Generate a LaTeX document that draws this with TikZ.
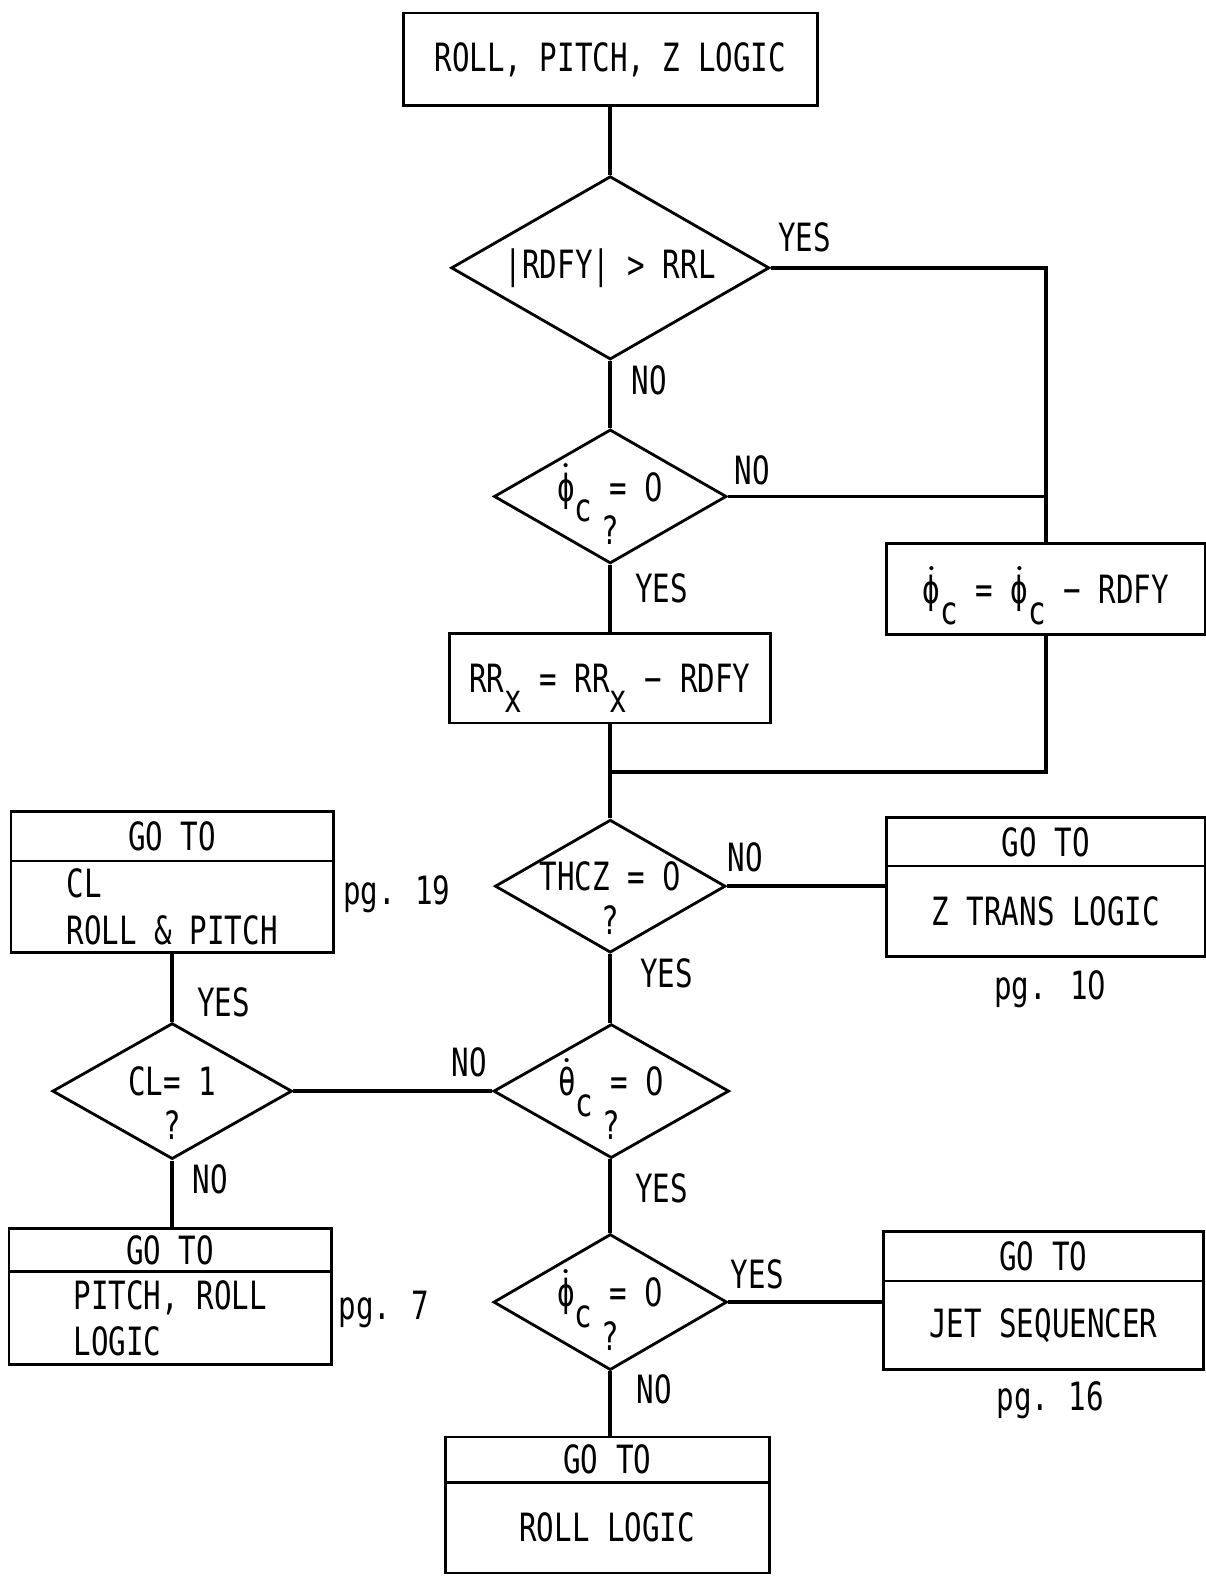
\documentclass[tikz,border=0pt]{standalone}
\usepackage{fontspec}
\setmainfont{DejaVu Sans Mono}[FakeStretch=0.75]
\newfontfamily\zerofont{DejaVu Sans}[FakeStretch=0.75]
\usepackage{tikz}
\usetikzlibrary{shapes.geometric, positioning}
\tikzset{
  flowbox/.style={
    draw, line width=0.8pt, align=center, inner sep=0pt,
    font=\fontsize{11}{13}\selectfont
  },
  decision/.style={
    draw, diamond, line width=0.8pt, align=center,
    inner xsep=-0.5cm, inner ysep=-0.2cm,
    font=\fontsize{11}{12.3}\selectfont
  },
  decisionq/.style={decision, execute at begin node={\rule{0pt}{0.96cm}}},
  gohead/.style={flowbox, minimum width=3.2cm, minimum height=0.47cm},
  gobody/.style={flowbox, minimum width=3.2cm, minimum height=0.9cm},
  flowline/.style={line width=1.1pt},
  flowlabel/.style={font=\fontsize{11}{13}\selectfont, inner sep=0pt},
}
\newcommand{\lowsub}[1]{\raisebox{-0.95ex}[0pt][0pt]{#1}}
\newcommand{\zero}{{\zerofont 0}}
\newcommand{\phidotc}{$\dot{\hbox{ϕ}}$\lowsub{c}}

\begin{document}
\begin{tikzpicture}
  \useasboundingbox (0,0) rectangle (11.97,-15.68);

  % main column
  \node[flowbox, minimum width=4.11cm, minimum height=0.92cm] (start) at (6.06,-0.59) {ROLL, PITCH, Z LOGIC};
  \node[decision, minimum width=3.16cm, minimum height=1.82cm] (rdfy) at (6.06,-2.66) {|RDFY| > RRL};
  \node[decisionq, minimum width=2.31cm, minimum height=1.33cm] (phiA) at (6.06,-4.93) {\phidotc{} = \zero\\?};
  \node[flowbox, minimum width=3.19cm, minimum height=0.89cm] (rrx) at (6.055,-6.735) {RR\lowsub{x} = RR\lowsub{x} − RDFY};
  \node[flowbox, minimum width=3.17cm, minimum height=0.9cm] (phiupd) at (10.385,-5.85) {\phidotc{} = \phidotc{} − RDFY};
  \coordinate (merge) at (6.06,-7.67);

  \node[decisionq, minimum width=2.29cm, minimum height=1.32cm] (thcz) at (6.06,-8.80) {THCZ = \zero\\?};
  \node[gohead, minimum width=3.17cm, minimum height=0.48cm] (ztransHead) at (10.385,-8.36) {GO TO};
  \node[gobody, minimum width=3.17cm] (ztransBody) at (10.385,-9.05) {Z TRANS LOGIC};
  \node[flowlabel] (pgTen) at (10.43,-9.82) {pg. 1\zero};

  \node[decisionq, minimum width=2.34cm, minimum height=1.33cm] (thetadot) at (6.07,-10.835) {$\dot{\hbox{θ}}$\lowsub{c} = \zero\\?};

  % left branch
  \node[decisionq, minimum width=2.38cm, minimum height=1.35cm] (cl) at (1.71,-10.835) {CL= 1\\?};
  \node[gohead, minimum height=0.49cm] (clHead) at (1.71,-8.305) {GO TO};
  \node[gobody, minimum height=0.91cm, align=left] (clBody) at (1.71,-9.005) {CL\\ROLL \& PITCH};
  \node[flowlabel] (pgNineteen) at (3.94,-8.88) {pg.\kern-0.1em{} 19};
  \node[gohead, minimum height=0.43cm] (pitchHead) at (1.69,-12.415) {GO TO};
  \node[gobody, minimum height=0.92cm, align=left] (pitchBody) at (1.69,-13.09) {PITCH, ROLL\\LOGIC};
  \node[flowlabel] (pgSeven) at (3.81,-13.0) {pg.\kern-0.1em{} 7};

  % bottom
  \node[decisionq, minimum width=2.32cm, minimum height=1.35cm] (phiB) at (6.06,-12.93) {\phidotc{} = \zero\\?};
  \node[gohead, minimum width=3.18cm, minimum height=0.49cm] (jetHead) at (10.36,-12.475) {GO TO};
  \node[gobody, minimum width=3.18cm, minimum height=0.88cm] (jetBody) at (10.36,-13.16) {JET SEQUENCER};
  \node[flowlabel] (pgSixteen) at (10.43,-13.9) {pg.\kern-0.1em{} 16};
  \node[gohead, minimum width=3.22cm, minimum height=0.45cm] (rollHead) at (6.03,-14.495) {GO TO};
  \node[gobody, minimum width=3.22cm] (rollBody) at (6.03,-15.17) {ROLL LOGIC};

  % branch labels
  \node[flowlabel] (yesA) at (7.99,-2.36) {YES};
  \node[flowlabel] (noA) at (6.45,-3.78) {NO};
  \node[flowlabel] (noB) at (7.47,-4.67) {NO};
  \node[flowlabel] (yesB) at (6.57,-5.84) {YES};
  \node[flowlabel] (noC) at (7.40,-8.51) {NO};
  \node[flowlabel] (yesC) at (6.62,-9.67) {YES};
  \node[flowlabel] (noD) at (4.66,-10.55) {NO};
  \node[flowlabel] (yesD) at (2.22,-9.95) {YES};
  \node[flowlabel] (noE) at (2.09,-11.71) {NO};
  \node[flowlabel] (yesE) at (6.57,-11.80) {YES};
  \node[flowlabel] (yesF) at (7.52,-12.65) {YES};
  \node[flowlabel] (noF) at (6.50,-13.80) {NO};

  \draw[flowline] (start) -- (rdfy);
  \draw[flowline] (rdfy) -- (phiA);
  \draw[flowline] (phiA.south) -- (phiA.south |- rrx.north);
  \draw[flowline] (rdfy.east) -| (phiupd.north);
  \draw[flowline] (phiA.east) -- (phiA.east -| phiupd.north);
  \draw[flowline] (phiupd.south) |- (merge);
  \draw[flowline] (thcz.north |- rrx.south) -- (thcz.north);
  \draw[flowline] (thcz.east) -- (thcz.east -| ztransBody.west);
  \draw[flowline] (thcz.south) -- (thcz.south |- thetadot.north);
  \draw[flowline] (thetadot.west) -- (cl.east);
  \draw[flowline] (cl.north) -- (cl.north |- clBody.south);
  \draw[flowline] (cl.south) -- (cl.south |- pitchHead.north);
  \draw[flowline] (phiB.north |- thetadot.south) -- (phiB.north);
  \draw[flowline] (phiB.east) -- (phiB.east -| jetBody.west);
  \draw[flowline] (phiB.south) -- (phiB.south |- rollHead.north);
\end{tikzpicture}
\end{document}
